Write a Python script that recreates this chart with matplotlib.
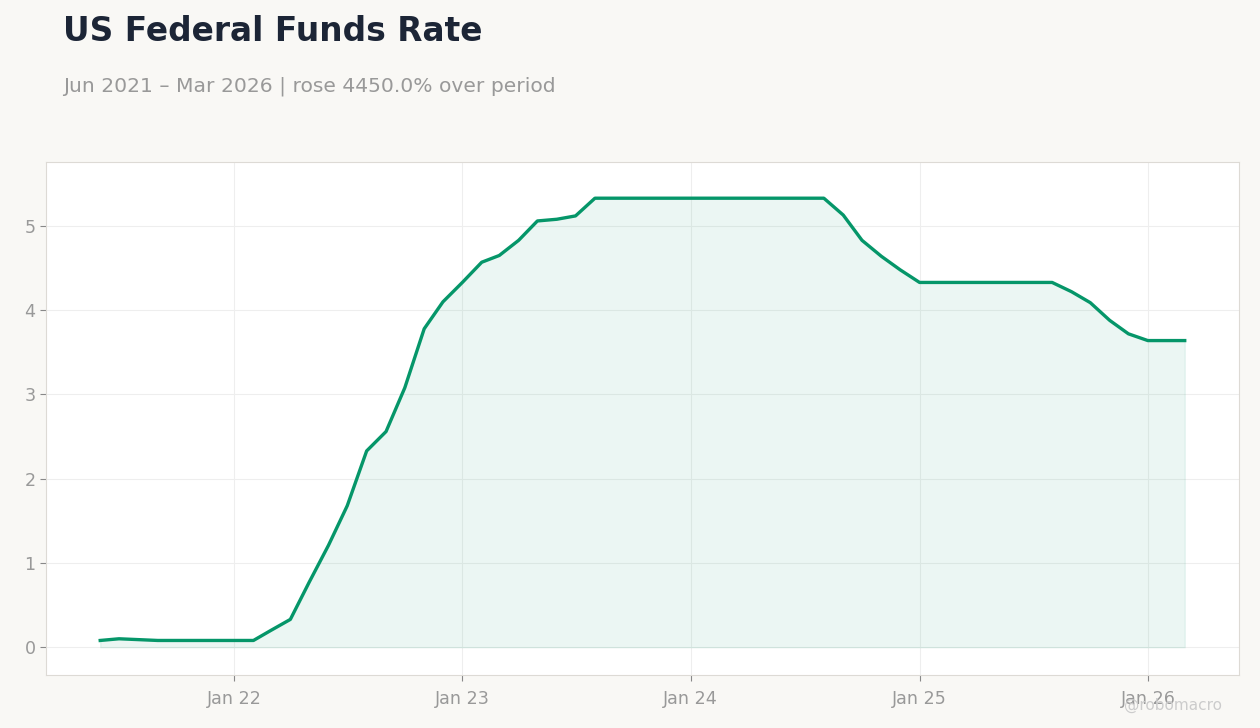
import pandas as pd
import matplotlib.pyplot as plt
import matplotlib.dates as mdates

# monthly effective fed funds rate, Jun 2021 - Mar 2026
months = pd.date_range("2021-06-01", "2026-03-01", freq="MS")
rate = [0.08, 0.10, 0.09, 0.08, 0.08, 0.08, 0.08,
        0.08, 0.08, 0.20, 0.33, 0.77, 1.21, 1.68, 2.33, 2.56, 3.08, 3.78, 4.10,
        4.33, 4.57, 4.65, 4.83, 5.06, 5.08, 5.12, 5.33, 5.33, 5.33, 5.33, 5.33,
        5.33, 5.33, 5.33, 5.33, 5.33, 5.33, 5.33, 5.33, 5.13, 4.83, 4.64, 4.48,
        4.33, 4.33, 4.33, 4.33, 4.33, 4.33, 4.33, 4.33, 4.22, 4.09, 3.88, 3.72,
        3.64, 3.64, 3.64]

bg = "#f9f8f5"
green = "#059669"
grey = "#999999"

fig = plt.figure(figsize=(12.6, 7.28), dpi=100, facecolor=bg)
ax = fig.add_axes([0.0365, 0.0728, 0.9468, 0.7047])
ax.set_facecolor("white")

ax.plot(months, rate, color=green, lw=2.4, zorder=3)
ax.fill_between(months, rate, 0, color=green, alpha=0.08, zorder=2)

ax.set_ylim(-0.33, 5.76)
ax.set_yticks([0, 1, 2, 3, 4, 5])
ax.xaxis.set_major_locator(mdates.YearLocator())
ax.xaxis.set_major_formatter(mdates.DateFormatter("Jan %y"))

ax.grid(True, color="#eeeeee", lw=0.8, zorder=0)
for s in ax.spines.values():
    s.set_color("#dddad5")
ax.tick_params(colors="#888888", labelcolor=grey, labelsize=12.6, length=4)
ax.tick_params(axis="x", pad=6.5)

fig.text(0.05, 0.943, "US Federal Funds Rate", fontsize=23.7, fontweight="bold",
         color="#1c2536", va="baseline")
fig.text(0.05, 0.874, "Jun 2021 \u2013 Mar 2026 | rose 4450.0% over period",
         fontsize=14.6, color=grey, va="baseline")
fig.text(0.97, 0.025, "@robomacro", fontsize=11, color="#cccccc", ha="right",
         va="baseline")

fig.savefig("out.png", dpi=100, facecolor=bg)
